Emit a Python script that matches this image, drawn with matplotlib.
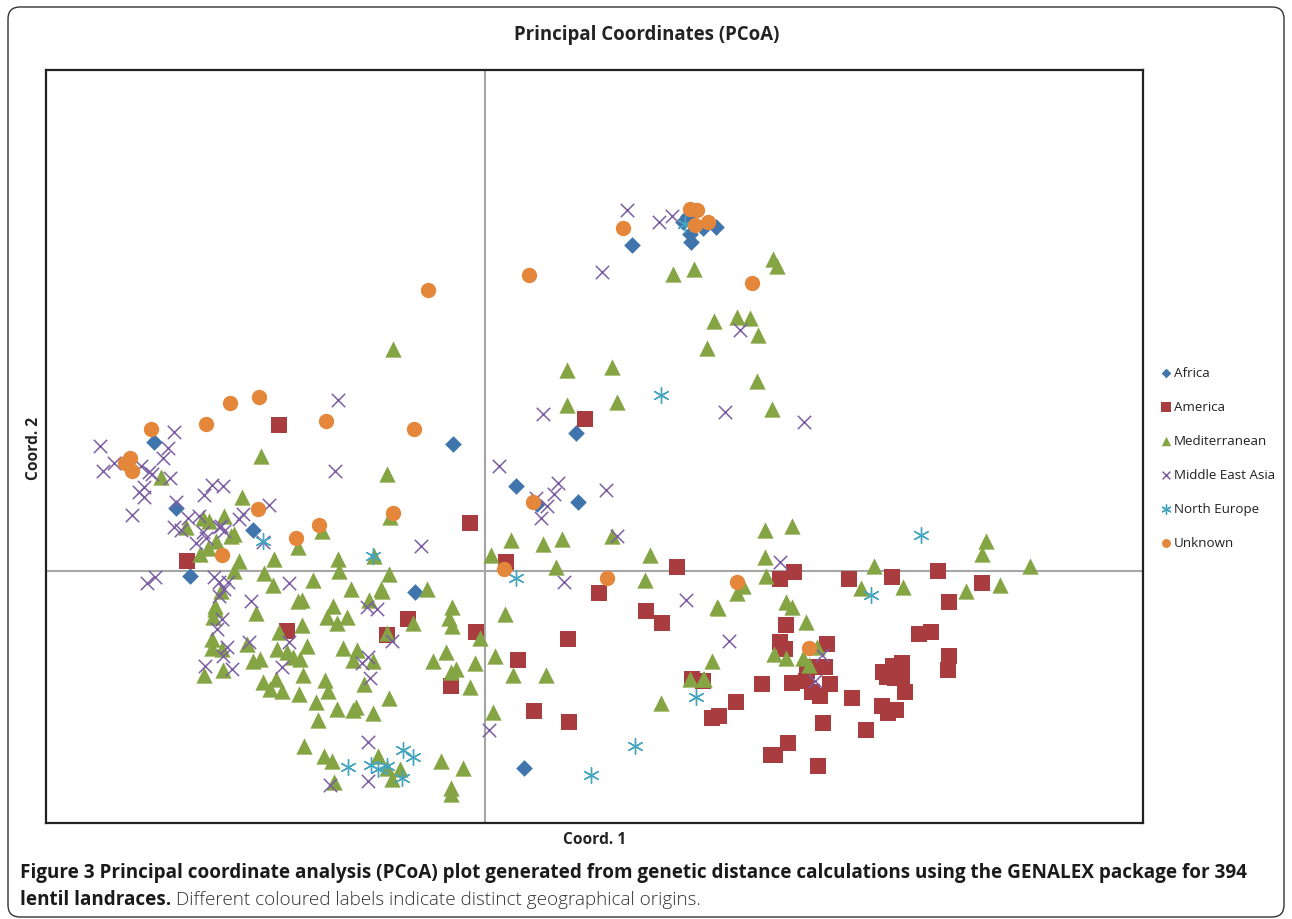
import matplotlib
matplotlib.use("Agg")
import matplotlib.pyplot as plt
from matplotlib.patches import FancyBboxPatch
from matplotlib.transforms import IdentityTransform

plt.rcParams['font.family'] = ['Open Sans', 'DejaVu Sans']

africa_x = [154,176,253,190,415,453,516,578,576,537,524,632,683,688,690,691,716,703]
africa_y = [443,509,531,577,593,445,487,503,434,505,769,246,223,217,235,243,228,229]

america_x = [279,187,585,470,506,287,408,387,476,451,518,534,569,568,599,646,662,677,692,703,
             794,780,849,892,938,982,949,919,931,786,780,785,827,825,815,807,792,762,806,830,
             812,820,852,736,719,712,823,866,788,775,771,818,882,888,896,905,949,948,902,893,
             883,887,895,902]
america_y = [426,562,420,524,563,632,620,636,633,687,661,712,723,640,594,612,624,568,680,682,
             573,580,580,578,572,584,603,635,633,626,643,650,645,668,668,672,684,685,682,685,
             693,697,699,703,717,719,724,731,744,756,756,767,707,714,711,693,657,671,664,667,
             673,678,679,678]

med_x = [161,261,242,186,203,209,224,234,231,216,208,200,239,234,264,274,273,298,302,298,221,215,
         313,339,338,351,389,382,381,427,333,256,369,327,347,337,302,279,215,213,387,413,452,449,
         452,480,212,212,222,247,277,307,287,293,300,343,357,353,373,253,260,204,223,303,263,276,
         270,282,325,364,328,299,316,337,356,353,373,389,318,433,446,451,456,475,470,304,324,332,
         378,387,400,392,334,441,463,451,451,393,387,390,322,374,491,511,543,562,612,650,556,645,
         505,495,513,546,493,661,717,690,703,567,612,617,567,757,772,707,714,737,750,758,773,777,
         673,694,765,792,765,737,743,766,718,786,792,806,774,786,803,817,809,712,704,874,861,903,
         966,1000,1030,982,986]
med_y = [478,457,498,528,519,522,517,535,537,542,549,555,562,572,574,560,586,602,601,548,592,607,
         581,572,560,590,575,592,590,590,607,614,601,618,618,624,626,633,610,618,634,624,608,619,
         627,639,640,649,650,645,650,647,653,658,660,649,651,661,662,662,660,676,671,676,683,680,
         690,692,681,685,692,695,703,710,708,711,714,699,721,662,653,673,670,664,688,747,757,762,
         757,769,770,780,783,762,769,789,795,350,475,518,532,557,556,541,545,540,537,556,568,581,
         615,657,676,676,713,704,608,680,680,371,368,403,406,382,410,349,322,318,319,336,260,267,
         275,270,531,527,558,594,587,577,609,603,608,623,655,659,659,648,666,662,680,567,589,588,
         592,586,567,555,542]

mea_x = [100,103,114,174,168,163,141,149,152,170,139,144,144,132,176,204,212,223,269,243,239,199,
         188,174,181,196,203,206,219,221,224,263,147,155,214,219,228,224,219,251,289,222,217,227,
         223,232,205,249,289,282,367,377,392,368,362,370,368,330,368,421,338,335,499,489,536,547,
         554,558,541,606,617,564,602,627,659,672,740,725,804,543,780,686,729,815,822]
mea_y = [447,472,464,433,449,459,467,473,475,479,493,488,498,516,503,496,486,487,506,515,520,517,
         519,528,531,544,533,539,528,527,532,543,584,578,578,583,583,590,597,602,584,620,630,648,
         657,670,667,643,643,668,608,610,642,658,664,679,743,786,782,547,401,472,467,731,499,507,
         495,484,519,491,537,583,273,211,223,217,331,413,423,415,563,601,642,682,656]

ne_x = [263,373,516,661,921,871,696,635,591,348,371,378,387,403,413,402,685]
ne_y = [542,557,579,396,536,596,698,747,776,768,766,770,767,751,758,779,225]

unk_x = [151,206,230,259,130,125,132,258,296,222,319,393,414,326,428,529,504,607,737,809,752,623,690,697,695,708,533]
unk_y = [430,425,404,398,459,464,472,510,539,556,526,514,430,422,291,276,570,579,583,649,284,229,210,211,226,223,503]

groups = ["Africa", "America", "Mediterranean", "Middle East Asia", "North Europe", "Unknown"]
x_limits = (46, 1143)
y_limits = (824, 71)
x_origin = 485
y_origin = 572

fig = plt.figure(figsize=(12.92, 9.2), dpi=100, facecolor='white')
ax = fig.add_axes([46/1292, 1-824/920, (1143-46)/1292, (824-71)/920])
ax.set_xlim(*x_limits)
ax.set_ylim(*y_limits)
ax.set_xticks([])
ax.set_yticks([])
for s in ax.spines.values():
    s.set_linewidth(1.6)
    s.set_color('#222222')
ax.axhline(y_origin, color='#a6a6a6', lw=1.5, zorder=1)
ax.axvline(x_origin, color='#a6a6a6', lw=1.5, zorder=1)

ax.scatter(africa_x, africa_y, marker='D', s=72, color='#3f74ad', linewidths=0, label=groups[0], zorder=3)
ax.scatter(america_x, america_y, marker='s', s=128, color='#a83c3e', linewidths=0, label=groups[1], zorder=4)
ax.scatter(med_x, med_y, marker='^', s=138, color='#85a544', linewidths=0, label=groups[2], zorder=5)
ax.scatter(mea_x, mea_y, marker='x', s=92, color='#7b5ea3', linewidths=1.1, label=groups[3], zorder=6)
ax.scatter(ne_x, ne_y, marker=(6, 2, 0), s=130, color='#45a5bf', linewidths=1.0, label=groups[4], zorder=7)
ax.scatter(unk_x, unk_y, marker='o', s=122, color='#e5873a', linewidths=0, label=groups[5], zorder=8)

leg = ax.legend(loc='center left', bbox_to_anchor=(1.0, 0.485), frameon=False, scatterpoints=1,
                markerscale=0.58, fontsize=9.6, labelspacing=1.58, handletextpad=-0.2,
                borderaxespad=0.5, handlelength=1.6, labelcolor='#222222')

fig.text(647/1292, 1-35/920, "Principal Coordinates (PCoA)", ha='center', va='center',
         fontsize=13.4, fontweight='bold', color='#222222')
fig.text(595/1292, 1-840/920, "Coord. 1", ha='center', va='center',
         fontsize=11.2, fontweight='bold', color='#222222')
fig.text(34/1292, 1-448/920, "Coord. 2", ha='center', va='center', rotation=90,
         fontsize=11.2, fontweight='bold', color='#222222')

fig.text(20/1292, 1-873/920,
         "Figure 3 Principal coordinate analysis (PCoA) plot generated from genetic distance calculations using the GENALEX package for 394",
         ha='left', va='center', fontsize=13.55, fontweight='bold', color='#1a1a1a')
t = fig.text(20/1292, 1-900/920, "lentil landraces.", ha='left', va='center',
             fontsize=13.55, fontweight='bold', color='#1a1a1a')
fig.canvas.draw()
bb = t.get_window_extent()
fig.text((bb.x1 + 5)/1292, 1-900/920, "Different coloured labels indicate distinct geographical origins.",
         ha='left', va='center', fontsize=13.55, fontweight='light', color='#333333')

border = FancyBboxPatch((8, 2), 1276, 910, boxstyle="round,pad=0,rounding_size=12",
                        transform=IdentityTransform(), fill=False, ec='#333333', lw=1.0, clip_on=False)
fig.add_artist(border)

fig.savefig("out.png", dpi=100)
